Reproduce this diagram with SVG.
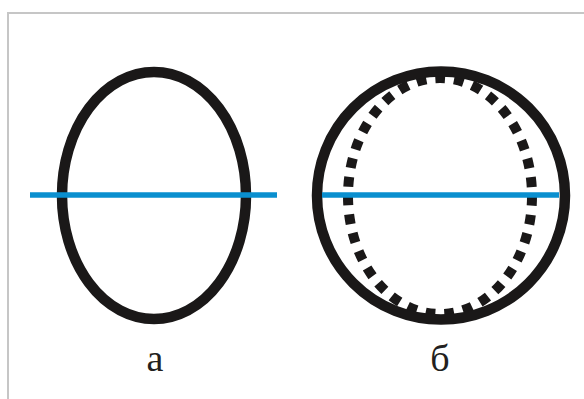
<svg xmlns="http://www.w3.org/2000/svg" width="584" height="399" viewBox="0 0 584 399">
  <style>
    .ring { fill: none; stroke: #1a1818; stroke-width: 10.5; }
    .dots { fill: none; stroke: #1a1818; stroke-width: 10; stroke-dasharray: 5.2 4.8; }
    .axis { stroke: #0a8fcf; stroke-width: 5.5; }
    .lbl { font-family: "Liberation Serif", "DejaVu Serif", serif; font-size: 38px; fill: #231f20; text-anchor: middle; }
  </style>
  <rect x="0" y="0" width="584" height="399" fill="#ffffff"/>
  <path d="M8 399 V13 H584" fill="none" stroke="#c6c6c6" stroke-width="2"/>
  <g id="node-a">
    <ellipse class="ring" cx="154" cy="195.5" rx="92" ry="123.5"/>
    <line class="axis" x1="30" y1="195" x2="277" y2="195"/>
    <text class="lbl" x="155" y="371">а</text>
  </g>
  <g id="node-b">
    <ellipse class="dots" cx="440" cy="196" rx="92" ry="118" pathLength="350"/>
    <circle class="ring" cx="441" cy="195.5" r="124"/>
    <line class="axis" x1="322" y1="195" x2="559" y2="195"/>
    <text class="lbl" x="440" y="371">б</text>
  </g>
  <g id="connectors"/>
</svg>
